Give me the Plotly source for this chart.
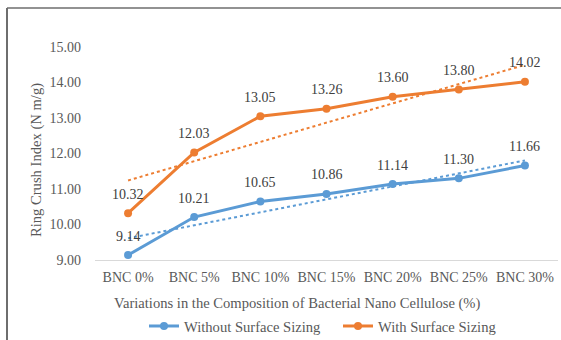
import numpy as np
import plotly.graph_objects as go

categories = ["BNC 0%", "BNC 5%", "BNC 10%", "BNC 15%", "BNC 20%", "BNC 25%", "BNC 30%"]
without_sizing = [9.14, 10.21, 10.65, 10.86, 11.14, 11.30, 11.66]
with_sizing = [10.32, 12.03, 13.05, 13.26, 13.60, 13.80, 14.02]
y_ticks = [9, 10, 11, 12, 13, 14, 15]
x_title = "Variations in the Composition of Bacterial Nano Cellulose (%)"
y_title = "Ring Crush Index (N m/g)"

BLUE = "#5B9BD5"
ORANGE = "#ED7D31"
FONT = "Liberation Serif"
GRAY = "#595959"

W, H = 561, 340
ML, MR, MT, MB = 95, 3, 47, 80
PW, PH = W - ML - MR, H - MT - MB


def px_x(x):
    return (x - ML) / PW


def px_y(y):
    return (H - MB - y) / PH


idx = np.arange(len(categories))
fig = go.Figure()

series = [("Without Surface Sizing", without_sizing, BLUE),
          ("With Surface Sizing", with_sizing, ORANGE)]

for name, vals, col in series:
    fig.add_trace(go.Scatter(
        x=categories, y=vals, mode="lines+markers", name=name,
        line=dict(color=col, width=3), marker=dict(color=col, size=8),
        cliponaxis=False,
    ))
    for c, v in zip(categories, vals):
        fig.add_annotation(x=c, y=v, text=f"{v:.2f}", showarrow=False,
                           yshift=19, font=dict(family=FONT, size=14, color="#404040"))

for name, vals, col in series:
    m, b = np.polyfit(idx, vals, 1)
    fig.add_trace(go.Scatter(
        x=categories, y=m * idx + b, mode="lines", showlegend=False,
        line=dict(color=col, width=2, dash="dot"), hoverinfo="skip",
    ))

# axis titles
fig.add_annotation(x=px_x(297), y=px_y(303), xref="paper", yref="paper",
                   text=x_title, showarrow=False, xanchor="center", yanchor="middle",
                   font=dict(family=FONT, size=14.6, color=GRAY))
fig.add_annotation(x=px_x(36), y=px_y(160), xref="paper", yref="paper",
                   text=y_title, showarrow=False, textangle=-90,
                   xanchor="center", yanchor="middle",
                   font=dict(family=FONT, size=14.6, color=GRAY))

fig.update_layout(
    width=W, height=H,
    margin=dict(l=ML, r=MR, t=MT, b=MB, autoexpand=False),
    paper_bgcolor="white", plot_bgcolor="white",
    font=dict(family=FONT, size=14, color=GRAY),
    showlegend=True,
    legend=dict(orientation="h", x=px_x(144), xanchor="left",
                y=px_y(326), yanchor="middle",
                font=dict(family=FONT, size=14.6, color=GRAY),
                traceorder="normal", itemwidth=30, entrywidth=149),
    xaxis=dict(
        showgrid=False, showline=True, linecolor="#D9D9D9", linewidth=1,
        ticks="", ticklabelstandoff=4, automargin=False,
        tickfont=dict(family=FONT, size=14, color=GRAY),
        range=[-0.5, 6.5], fixedrange=True,
    ),
    yaxis=dict(
        range=[9, 15], tickvals=y_ticks, ticktext=[f"{v:.2f}" for v in y_ticks],
        showgrid=False, zeroline=False, showline=False, ticks="",
        ticklabelstandoff=13, automargin=False,
        tickfont=dict(family=FONT, size=14, color=GRAY),
    ),
    shapes=[
        dict(type="line", xref="paper", yref="paper",
             x0=px_x(7), x1=px_x(W), y0=px_y(8), y1=px_y(8),
             line=dict(color="#6E6E6E", width=1.5)),
        dict(type="line", xref="paper", yref="paper",
             x0=px_x(7), x1=px_x(7), y0=px_y(8), y1=px_y(H),
             line=dict(color="#6E6E6E", width=2)),
    ],
)

fig.write_html("out.html")
